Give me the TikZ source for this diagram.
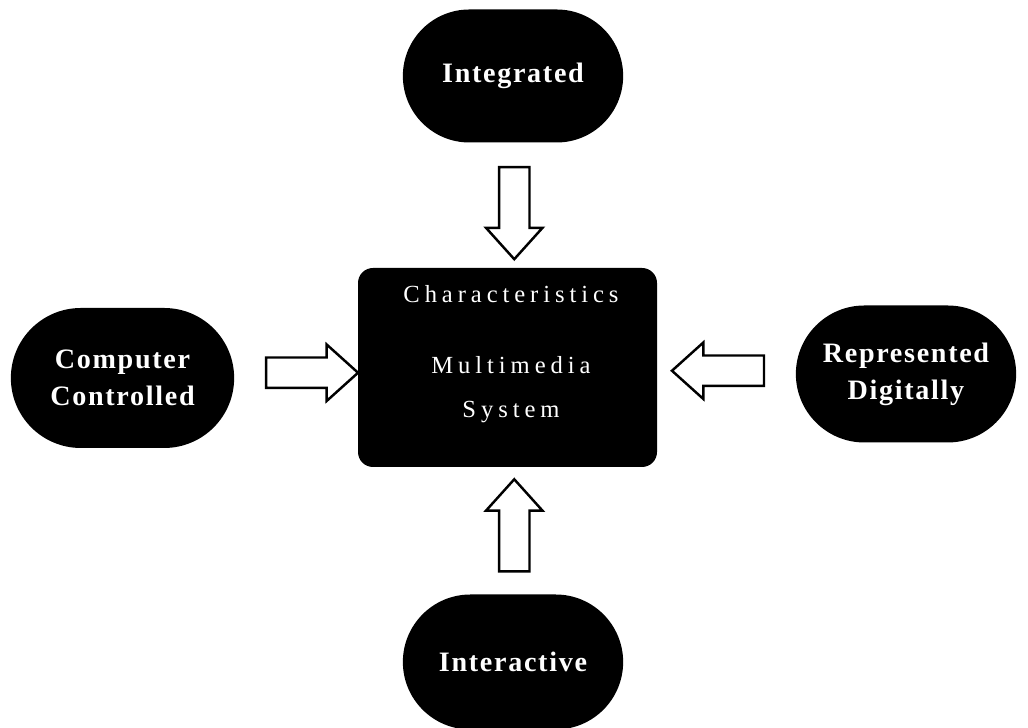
\documentclass[tikz,border=0pt]{standalone}
\usepackage{fontspec}
\setmainfont{Liberation Serif}
\usetikzlibrary{shapes.misc, shapes.arrows, calc}

\newcommand{\pillfont}{\fontsize{16}{21}\selectfont\bfseries\addfontfeatures{LetterSpace=6}}
\newcommand{\corefont}{\fontsize{14}{24.5}\selectfont\addfontfeatures{LetterSpace=20}}

\tikzset{
    pill/.style={rounded rectangle, fill=black, text=white, align=center,
        font=\pillfont, minimum width=4.64cm, minimum height=2.7cm},
    corebox/.style={rectangle, rounded corners=0.3cm, fill=black,
        minimum width=5.98cm, minimum height=3.98cm},
    corelabel/.style={text=white, align=center, font=\corefont, inner sep=0pt},
    % shaft width comes from inner ysep, head from the extend
    blockarrow/.style={single arrow, draw=black, fill=white, line width=1.4pt,
        minimum height=1.84cm, inner xsep=0pt, inner ysep=0.28cm,
        single arrow head extend=0.26cm, single arrow tip angle=84},
}

\begin{document}
\begin{tikzpicture}
    \useasboundingbox (0, 0) rectangle (20.56, 14.56);

    % the system in the middle
    \node[corebox] (core) at (10.15, 7.21) {};
    \node[corelabel, anchor=north] (coretext) at (10.22, 8.85)
        {Characteristics\\[0.56cm]Multimedia\\System};

    % the four characteristics round it
    \node[pill, minimum height=2.66cm] (integ) at (10.26, 13.04) {Integrated};
    \node[pill, minimum width=4.7cm, minimum height=2.8cm] (comp) at (2.45, 7.0) {Computer\\Controlled};
    \node[pill, minimum height=2.74cm] (digit) at (18.12, 7.08) {Represented\\Digitally};
    \node[pill] (inter) at (10.26, 1.32) {Interactive};

    % block arrows pointing in
    \node[blockarrow, rotate=-90] (a1) at ($(integ.south)!0.5!(core.north) + (0.08, 0.01)$) {};
    \node[blockarrow] (a2) at ($(comp.east)!0.5!(core.west) + (0.15, 0)$) {};
    \node[blockarrow, rotate=180] (a3) at ($(digit.west)!0.5!(core.east)$) {};
    \node[blockarrow, rotate=90] (a4) at ($(inter.north)!0.5!(core.south) + (0.08, -0.06)$) {};

\end{tikzpicture}
\end{document}
